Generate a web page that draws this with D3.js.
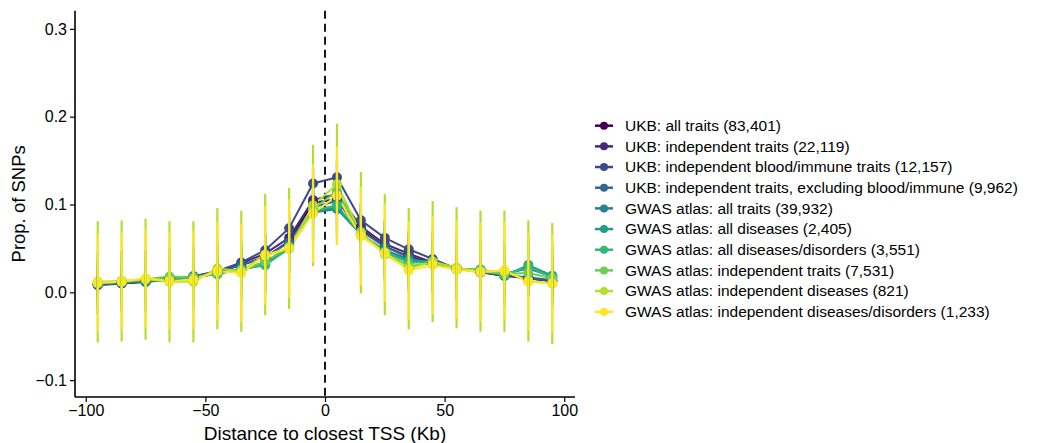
<!DOCTYPE html>
<html>
<head>
<meta charset="utf-8">
<script src="https://cdn.jsdelivr.net/npm/d3@7"></script>
<style>
  body { margin: 0; background: #fff; }
  text { font-family: "Liberation Sans", Arial, sans-serif; fill: #000; }
</style>
</head>
<body>
<div id="chart"></div>
<script>
// distance bins (Kb)
const distancias = [-95, -85, -75, -65, -55, -45, -35, -25, -15, -5, 5, 15, 25, 35, 45, 55, 65, 75, 85, 95];

const nomesSeries = [
  "UKB: all traits (83,401)",
  "UKB: independent traits (22,119)",
  "UKB: independent blood/immune traits (12,157)",
  "UKB: independent traits, excluding blood/immune (9,962)",
  "GWAS atlas: all traits (39,932)",
  "GWAS atlas: all diseases (2,405)",
  "GWAS atlas: all diseases/disorders (3,551)",
  "GWAS atlas: independent traits (7,531)",
  "GWAS atlas: independent diseases (821)",
  "GWAS atlas: independent diseases/disorders (1,233)"
];

const cores = ["#440154", "#482878", "#3E4A89", "#31688E", "#26828E", "#1F9E89", "#35B779", "#6DCD59", "#B4DE2C", "#FDE725"];

const ukbTodos        = [0.009, 0.010, 0.012, 0.015, 0.018, 0.023, 0.031, 0.040, 0.058, 0.102, 0.106, 0.072, 0.052, 0.041, 0.033, 0.027, 0.023, 0.019, 0.016, 0.013];
const ukbIndep        = [0.009, 0.011, 0.012, 0.015, 0.018, 0.024, 0.033, 0.044, 0.062, 0.105, 0.112, 0.075, 0.055, 0.044, 0.034, 0.027, 0.023, 0.019, 0.016, 0.013];
const ukbSangue       = [0.008, 0.010, 0.012, 0.014, 0.018, 0.024, 0.034, 0.048, 0.073, 0.124, 0.131, 0.082, 0.062, 0.049, 0.038, 0.027, 0.023, 0.019, 0.016, 0.013];
const ukbSemSangue    = [0.009, 0.011, 0.012, 0.015, 0.018, 0.023, 0.031, 0.040, 0.057, 0.097, 0.104, 0.070, 0.052, 0.040, 0.032, 0.027, 0.024, 0.020, 0.017, 0.014];
const gwasTodos       = [0.010, 0.012, 0.013, 0.015, 0.017, 0.021, 0.027, 0.034, 0.052, 0.091, 0.095, 0.066, 0.048, 0.038, 0.034, 0.027, 0.025, 0.021, 0.027, 0.018];
const gwasDoencas     = [0.010, 0.012, 0.013, 0.015, 0.017, 0.021, 0.026, 0.032, 0.050, 0.092, 0.097, 0.066, 0.047, 0.036, 0.035, 0.026, 0.026, 0.019, 0.031, 0.019];
const gwasDisturbios  = [0.010, 0.012, 0.014, 0.016, 0.017, 0.021, 0.026, 0.031, 0.050, 0.093, 0.099, 0.066, 0.046, 0.034, 0.034, 0.026, 0.026, 0.020, 0.029, 0.017];
const gwasIndep       = [0.010, 0.012, 0.015, 0.018, 0.017, 0.022, 0.025, 0.035, 0.052, 0.095, 0.115, 0.068, 0.045, 0.030, 0.033, 0.027, 0.024, 0.021, 0.022, 0.016];
const gwasIndepDoenca = [0.012, 0.013, 0.015, 0.012, 0.012, 0.027, 0.024, 0.043, 0.050, 0.099, 0.123, 0.068, 0.043, 0.027, 0.035, 0.028, 0.024, 0.024, 0.013, 0.010];
const gwasIndepDist   = [0.011, 0.012, 0.016, 0.013, 0.014, 0.024, 0.022, 0.042, 0.050, 0.090, 0.110, 0.064, 0.045, 0.025, 0.031, 0.026, 0.023, 0.025, 0.012, 0.010];

// half-width of the error bars, one per series
const meiaBarra = [0.004, 0.010, 0.018, 0.014, 0.008, 0.035, 0.028, 0.022, 0.069, 0.056];

const valoresSeries = [ukbTodos, ukbIndep, ukbSangue, ukbSemSangue, gwasTodos, gwasDoencas, gwasDisturbios, gwasIndep, gwasIndepDoenca, gwasIndepDist];

const yTicks = [-0.1, 0.0, 0.1, 0.2, 0.3];
const xTicks = [-100, -50, 0, 50, 100];

const largura = 1048, altura = 443;
const esq = 75, dir = 575, topo = 10.7, base = 397;

const svg = d3.select("#chart").append("svg").attr("width", largura).attr("height", altura);

const x = d3.scaleLinear().domain([-104.5, 104.5]).range([esq, dir]);
const y = d3.scaleLinear().domain([-0.1192, 0.3207]).range([base, topo]);

const series = nomesSeries.map((nome, i) => ({
  nome, cor: cores[i], meia: meiaBarra[i],
  pontos: distancias.map((d, j) => ({ d, v: valoresSeries[i][j] }))
}));

// dashed line at TSS
svg.append("line")
  .attr("x1", x(0)).attr("x2", x(0))
  .attr("y1", topo).attr("y2", base)
  .attr("stroke", "#000").attr("stroke-width", 1.8)
  .attr("stroke-dasharray", "8,5");

const linha = d3.line().x(p => x(p.d)).y(p => y(p.v));
const g = svg.append("g");

series.forEach(s => {
  g.append("path").datum(s.pontos)
    .attr("d", linha)
    .attr("fill", "none")
    .attr("stroke", s.cor)
    .attr("stroke-width", 2);
});

series.forEach(s => {
  g.selectAll(null).data(s.pontos).enter().append("circle")
    .attr("cx", p => x(p.d)).attr("cy", p => y(p.v))
    .attr("r", 5).attr("fill", s.cor);
});

series.forEach(s => {
  g.selectAll(null).data(s.pontos).enter().append("line")
    .attr("x1", p => x(p.d)).attr("x2", p => x(p.d))
    .attr("y1", p => y(p.v - s.meia)).attr("y2", p => y(p.v + s.meia))
    .attr("stroke", s.cor).attr("stroke-width", 2.2);
});

// axes
const eixoX = svg.append("g").attr("transform", `translate(0,${base})`)
  .call(d3.axisBottom(x).tickValues(xTicks).tickSize(5).tickPadding(3).tickFormat(d => d3.format("d")(d).replace("-", "\u2212")));
const eixoY = svg.append("g").attr("transform", `translate(${esq},0)`)
  .call(d3.axisLeft(y).tickValues(yTicks).tickSize(5).tickPadding(3).tickFormat(d => d3.format(".1f")(d).replace("-", "\u2212")));

[eixoX, eixoY].forEach(a => {
  a.select(".domain").attr("stroke", "#000").attr("stroke-width", 1.6);
  a.selectAll(".tick line").attr("stroke", "#000").attr("stroke-width", 1.2);
  a.selectAll(".tick text").style("font-size", "16px").attr("fill", "#000");
});
eixoX.select(".domain").attr("d", `M${esq},0H${dir}`);
eixoY.select(".domain").attr("d", `M0,${topo}V${base}`);

svg.append("text")
  .attr("x", x(0)).attr("y", 440)
  .attr("text-anchor", "middle")
  .style("font-size", "19px")
  .text("Distance to closest TSS (Kb)");

svg.append("text")
  .attr("transform", `translate(25,${(topo + base) / 2}) rotate(-90)`)
  .attr("text-anchor", "middle")
  .style("font-size", "18.5px")
  .text("Prop. of SNPs");

// legend
const legenda = svg.append("g").attr("transform", "translate(595,125.7)");
const itens = legenda.selectAll("g").data(series).enter().append("g")
  .attr("transform", (d, i) => `translate(0,${i * 20.67})`);
itens.append("line").attr("x1", 0).attr("x2", 18).attr("y1", 0).attr("y2", 0)
  .attr("stroke", d => d.cor).attr("stroke-width", 2.5);
itens.append("circle").attr("cx", 9).attr("cy", 0).attr("r", 4).attr("fill", d => d.cor);
itens.append("text").attr("x", 30).attr("y", 0).attr("dy", "0.35em")
  .style("font-size", "15.5px").text(d => d.nome);
</script>
</body>
</html>
